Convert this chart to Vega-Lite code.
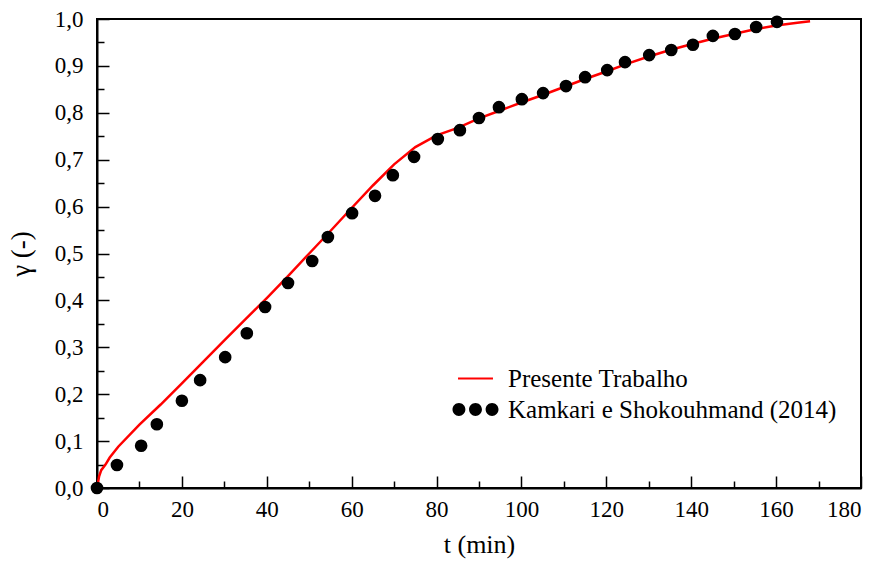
{
  "$schema": "https://vega.github.io/schema/vega-lite/v6.json",
  "autosize": {"type": "none"},
  "width": 764,
  "height": 469,
  "padding": {"left": 97, "top": 19, "right": 20, "bottom": 84},
  "background": "white",
  "config": {
    "font": "Liberation Serif",
    "view": {"stroke": "black", "strokeWidth": 2},
    "axis": {"grid": false, "domainColor": "black", "domainWidth": 2, "tickColor": "black", "tickWidth": 1.5, "labelColor": "black", "labelFont": "Liberation Serif", "labelFontSize": 23, "titleFont": "Liberation Serif", "titleColor": "black", "titleFontWeight": "normal"}
  },
  "datasets": {
    "linha": [
      {"t": 0, "gamma": 0, "serie": "Presente Trabalho"},
      {"t": 0.5, "gamma": 0.025, "serie": "Presente Trabalho"},
      {"t": 1, "gamma": 0.038, "serie": "Presente Trabalho"},
      {"t": 2, "gamma": 0.05, "serie": "Presente Trabalho"},
      {"t": 3, "gamma": 0.065, "serie": "Presente Trabalho"},
      {"t": 5, "gamma": 0.088, "serie": "Presente Trabalho"},
      {"t": 10, "gamma": 0.135, "serie": "Presente Trabalho"},
      {"t": 15, "gamma": 0.178, "serie": "Presente Trabalho"},
      {"t": 20, "gamma": 0.223, "serie": "Presente Trabalho"},
      {"t": 25, "gamma": 0.269, "serie": "Presente Trabalho"},
      {"t": 30, "gamma": 0.315, "serie": "Presente Trabalho"},
      {"t": 35, "gamma": 0.36, "serie": "Presente Trabalho"},
      {"t": 40, "gamma": 0.405, "serie": "Presente Trabalho"},
      {"t": 45, "gamma": 0.452, "serie": "Presente Trabalho"},
      {"t": 50, "gamma": 0.5, "serie": "Presente Trabalho"},
      {"t": 55, "gamma": 0.548, "serie": "Presente Trabalho"},
      {"t": 60, "gamma": 0.597, "serie": "Presente Trabalho"},
      {"t": 65, "gamma": 0.645, "serie": "Presente Trabalho"},
      {"t": 70, "gamma": 0.69, "serie": "Presente Trabalho"},
      {"t": 75, "gamma": 0.727, "serie": "Presente Trabalho"},
      {"t": 80, "gamma": 0.752, "serie": "Presente Trabalho"},
      {"t": 85, "gamma": 0.768, "serie": "Presente Trabalho"},
      {"t": 90, "gamma": 0.788, "serie": "Presente Trabalho"},
      {"t": 95, "gamma": 0.805, "serie": "Presente Trabalho"},
      {"t": 100, "gamma": 0.822, "serie": "Presente Trabalho"},
      {"t": 105, "gamma": 0.838, "serie": "Presente Trabalho"},
      {"t": 110, "gamma": 0.855, "serie": "Presente Trabalho"},
      {"t": 115, "gamma": 0.872, "serie": "Presente Trabalho"},
      {"t": 120, "gamma": 0.888, "serie": "Presente Trabalho"},
      {"t": 125, "gamma": 0.905, "serie": "Presente Trabalho"},
      {"t": 130, "gamma": 0.92, "serie": "Presente Trabalho"},
      {"t": 135, "gamma": 0.934, "serie": "Presente Trabalho"},
      {"t": 140, "gamma": 0.946, "serie": "Presente Trabalho"},
      {"t": 145, "gamma": 0.958, "serie": "Presente Trabalho"},
      {"t": 150, "gamma": 0.968, "serie": "Presente Trabalho"},
      {"t": 155, "gamma": 0.978, "serie": "Presente Trabalho"},
      {"t": 160, "gamma": 0.986, "serie": "Presente Trabalho"},
      {"t": 165, "gamma": 0.992, "serie": "Presente Trabalho"},
      {"t": 168, "gamma": 0.995, "serie": "Presente Trabalho"}
    ],
    "pontos": [
      {"t": 0, "gamma": 0, "serie": "Kamkari e Shokouhmand (2014)"},
      {"t": 4.7, "gamma": 0.049, "serie": "Kamkari e Shokouhmand (2014)"},
      {"t": 10.4, "gamma": 0.09, "serie": "Kamkari e Shokouhmand (2014)"},
      {"t": 14.1, "gamma": 0.136, "serie": "Kamkari e Shokouhmand (2014)"},
      {"t": 20.0, "gamma": 0.186, "serie": "Kamkari e Shokouhmand (2014)"},
      {"t": 24.3, "gamma": 0.23, "serie": "Kamkari e Shokouhmand (2014)"},
      {"t": 30.2, "gamma": 0.279, "serie": "Kamkari e Shokouhmand (2014)"},
      {"t": 35.3, "gamma": 0.33, "serie": "Kamkari e Shokouhmand (2014)"},
      {"t": 39.6, "gamma": 0.386, "serie": "Kamkari e Shokouhmand (2014)"},
      {"t": 45.0, "gamma": 0.437, "serie": "Kamkari e Shokouhmand (2014)"},
      {"t": 50.7, "gamma": 0.484, "serie": "Kamkari e Shokouhmand (2014)"},
      {"t": 54.4, "gamma": 0.535, "serie": "Kamkari e Shokouhmand (2014)"},
      {"t": 60.1, "gamma": 0.586, "serie": "Kamkari e Shokouhmand (2014)"},
      {"t": 65.5, "gamma": 0.623, "serie": "Kamkari e Shokouhmand (2014)"},
      {"t": 69.7, "gamma": 0.667, "serie": "Kamkari e Shokouhmand (2014)"},
      {"t": 74.7, "gamma": 0.706, "serie": "Kamkari e Shokouhmand (2014)"},
      {"t": 80.3, "gamma": 0.744, "serie": "Kamkari e Shokouhmand (2014)"},
      {"t": 85.5, "gamma": 0.763, "serie": "Kamkari e Shokouhmand (2014)"},
      {"t": 90.0, "gamma": 0.789, "serie": "Kamkari e Shokouhmand (2014)"},
      {"t": 94.7, "gamma": 0.812, "serie": "Kamkari e Shokouhmand (2014)"},
      {"t": 100.1, "gamma": 0.829, "serie": "Kamkari e Shokouhmand (2014)"},
      {"t": 105.1, "gamma": 0.842, "serie": "Kamkari e Shokouhmand (2014)"},
      {"t": 110.5, "gamma": 0.857, "serie": "Kamkari e Shokouhmand (2014)"},
      {"t": 115.0, "gamma": 0.876, "serie": "Kamkari e Shokouhmand (2014)"},
      {"t": 120.2, "gamma": 0.891, "serie": "Kamkari e Shokouhmand (2014)"},
      {"t": 124.4, "gamma": 0.908, "serie": "Kamkari e Shokouhmand (2014)"},
      {"t": 130.1, "gamma": 0.923, "serie": "Kamkari e Shokouhmand (2014)"},
      {"t": 135.3, "gamma": 0.934, "serie": "Kamkari e Shokouhmand (2014)"},
      {"t": 140.4, "gamma": 0.945, "serie": "Kamkari e Shokouhmand (2014)"},
      {"t": 145.1, "gamma": 0.964, "serie": "Kamkari e Shokouhmand (2014)"},
      {"t": 150.3, "gamma": 0.968, "serie": "Kamkari e Shokouhmand (2014)"},
      {"t": 155.3, "gamma": 0.983, "serie": "Kamkari e Shokouhmand (2014)"},
      {"t": 160.2, "gamma": 0.994, "serie": "Kamkari e Shokouhmand (2014)"}
    ]
  },
  "layer": [
    {
      "data": {"name": "linha"},
      "mark": {"type": "line", "color": "#ff0000", "strokeWidth": 2.5, "clip": true},
      "encoding": {
        "x": {"field": "t", "type": "quantitative", "scale": {"domain": [0, 180], "nice": false, "zero": false},
          "axis": {"orient": "bottom", "values": [0, 20, 40, 60, 80, 100, 120, 140, 160, 180], "tickSize": -12, "labelPadding": 22, "format": "d", "title": "t (min)", "titleFontSize": 26, "titlePadding": 10}},
        "y": {"field": "gamma", "type": "quantitative", "scale": {"domain": [0, 1], "nice": false, "zero": false},
          "axis": {"orient": "left", "values": [0, 0.1, 0.2, 0.3, 0.4, 0.5, 0.6, 0.7, 0.8, 0.9, 1.0], "tickSize": -12, "labelPadding": 26, "labelExpr": "replace(format(datum.value, '.1f'), '.', ',')", "title": "γ  (-)", "titleFontSize": 27, "titlePadding": 19}},
        "color": {"field": "serie", "type": "nominal",
          "scale": {"domain": ["Presente Trabalho", "Kamkari e Shokouhmand (2014)"], "range": ["#ff0000", "black"]},
          "legend": {
            "title": null, "orient": "none", "legendX": 366, "legendY": 347, "padding": 0,
            "labelFont": "Liberation Serif", "labelFontSize": 25, "labelColor": "black", "labelOffset": 20, "rowPadding": 5, "labelLimit": 500,
            "symbolSize": 529,
            "encode": {"symbols": {"update": {
              "shape": {"signal": "datum.value === 'Presente Trabalho' ? 'M-1.52,-0.09H1.52V0.09H-1.52Z' : 'M-0.88,0A0.56,0.56 0 1,0 -2,0A0.56,0.56 0 1,0 -0.88,0Z M0.56,0A0.56,0.56 0 1,0 -0.56,0A0.56,0.56 0 1,0 0.56,0Z M2,0A0.56,0.56 0 1,0 0.88,0A0.56,0.56 0 1,0 2,0Z'"},
              "fill": {"signal": "datum.value === 'Presente Trabalho' ? '#ff0000' : 'black'"},
              "stroke": {"value": "transparent"},
              "strokeWidth": {"value": 0},
              "opacity": {"value": 1},
              "fillOpacity": {"value": 1}
            }}}
          }}
      }
    },
    {
      "data": {"name": "pontos"},
      "mark": {"type": "point", "filled": true, "shape": "circle", "size": 160, "opacity": 1},
      "encoding": {
        "x": {"field": "t", "type": "quantitative",
          "axis": {"orient": "bottom", "values": [10, 30, 50, 70, 90, 110, 130, 150, 170], "tickSize": -7, "labels": false, "domain": false, "title": null}},
        "y": {"field": "gamma", "type": "quantitative",
          "axis": {"orient": "left", "values": [0.05, 0.15, 0.25, 0.35, 0.45, 0.55, 0.65, 0.75, 0.85, 0.95], "tickSize": -7, "labels": false, "domain": false, "title": null}},
        "color": {"field": "serie", "type": "nominal"}
      }
    }
  ],
  "resolve": {"axis": {"x": "independent", "y": "independent"}}
}
